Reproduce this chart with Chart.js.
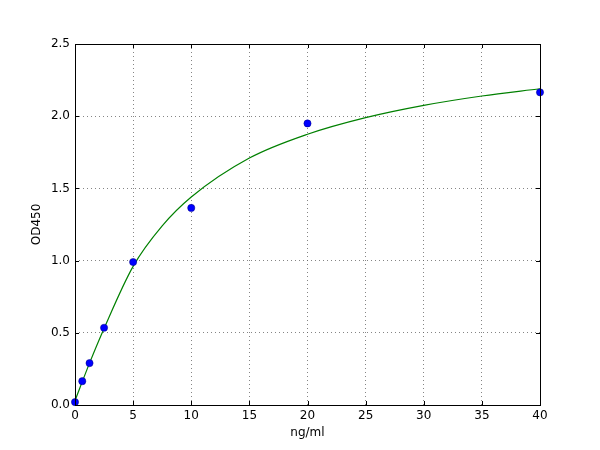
<!DOCTYPE html>
<html>
<head>
<meta charset="utf-8">
<script src="https://cdn.jsdelivr.net/npm/chart.js@4/dist/chart.umd.min.js"></script>
<style>
  html, body { margin: 0; padding: 0; background: #fff; }
  #wrap { width: 600px; height: 450px; }
</style>
</head>
<body>
<div id="wrap"><canvas id="Chart" width="600" height="450"></canvas></div>
<script>
// measured standards
const concX = [0, 0.625, 1.25, 2.5, 5, 10, 20, 40];
const odY = [0.02, 0.165, 0.29, 0.535, 0.99, 1.365, 1.95, 2.165];

// fitted curve
const fitX = [0, 1.25, 2.5, 5, 7.5, 10, 15, 20, 25, 30, 35, 40];
const fitY = [0.03, 0.29, 0.53, 0.96, 1.24, 1.44, 1.71, 1.875, 1.99, 2.075, 2.14, 2.19];

const xTicks = [0, 5, 10, 15, 20, 25, 30, 35, 40];
const yTicks = [0, 0.5, 1.0, 1.5, 2.0, 2.5];

Chart.defaults.font.family = "DejaVu Sans";
Chart.defaults.font.size = 12;
Chart.defaults.color = "#000";

// frame + inward tick marks like the original
const framePlugin = {
  id: "frame",
  afterDraw(chart) {
    const { ctx, chartArea: a, scales } = chart;
    ctx.save();
    ctx.strokeStyle = "#000";
    ctx.lineWidth = 1;
    ctx.strokeRect(a.left + 0.5, a.top + 0.5, a.right - a.left, a.bottom - a.top);
    ctx.beginPath();
    xTicks.forEach((v) => {
      const px = Math.round(scales.x.getPixelForValue(v)) + 0.5;
      ctx.moveTo(px, a.bottom); ctx.lineTo(px, a.bottom - 4);
      ctx.moveTo(px, a.top); ctx.lineTo(px, a.top + 4);
    });
    yTicks.forEach((v) => {
      const py = Math.round(scales.y.getPixelForValue(v)) + 0.5;
      ctx.moveTo(a.left, py); ctx.lineTo(a.left + 4, py);
      ctx.moveTo(a.right, py); ctx.lineTo(a.right - 4, py);
    });
    ctx.stroke();
    ctx.restore();
  },
};

new Chart(document.getElementById("Chart"), {
  type: "scatter",
  data: {
    datasets: [
      {
        type: "line",
        label: "fit",
        data: fitX.map((x, i) => ({ x: x, y: fitY[i] })),
        borderColor: "#008000",
        borderWidth: 1.2,
        pointRadius: 0,
        cubicInterpolationMode: "monotone",
        fill: false,
        order: 2,
      },
      {
        label: "OD",
        data: concX.map((x, i) => ({ x: x, y: odY[i] })),
        backgroundColor: "#0000ff",
        borderColor: "#00007f",
        borderWidth: 0.5,
        pointRadius: 3.6,
        order: 1,
      },
    ],
  },
  options: {
    responsive: false,
    animation: false,
    clip: false,
    layout: { padding: { left: 30, right: 60, top: 44, bottom: 10 } },
    plugins: {
      legend: { display: false },
      tooltip: { enabled: false },
    },
    scales: {
      x: {
        type: "linear",
        min: 0,
        max: 40,
        afterBuildTicks: (s) => { s.ticks = xTicks.map((v) => ({ value: v })); },
        afterFit: (s) => { s.height = 35; },
        ticks: { padding: 4, color: "#000" },
        grid: { color: "#666", drawTicks: false, lineWidth: 0.8 },
        border: { display: false, dash: [1, 3] },
        title: { display: true, text: "ng/ml", padding: 0, color: "#000" },
      },
      y: {
        type: "linear",
        min: 0,
        max: 2.5,
        afterBuildTicks: (s) => { s.ticks = yTicks.map((v) => ({ value: v })); },
        afterFit: (s) => { s.width = 45; },
        ticks: { padding: 5, color: "#000", callback: (v) => v.toFixed(1) },
        grid: { color: "#666", drawTicks: false, lineWidth: 0.8 },
        border: { display: false, dash: [1, 3] },
        title: { display: true, text: "OD450", padding: 0, color: "#000" },
      },
    },
  },
  plugins: [framePlugin],
});
</script>
</body>
</html>
